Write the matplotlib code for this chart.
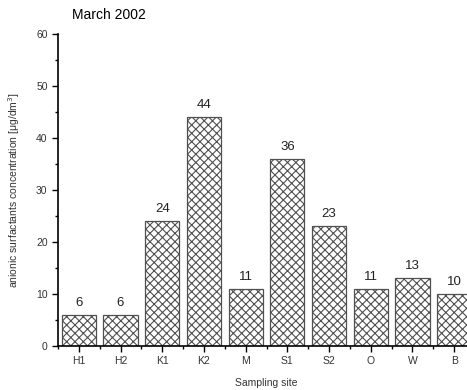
import matplotlib
matplotlib.use("Agg")
from matplotlib import pyplot as plt
from matplotlib.ticker import MultipleLocator

sites = ["H1", "H2", "K1", "K2", "M", "S1", "S2", "O", "W", "B"]
values = [6, 6, 24, 44, 11, 36, 23, 11, 13, 10]

plt.rcParams['font.family'] = ['Liberation Sans', 'DejaVu Sans']
plt.rcParams['hatch.color'] = '#505050'
plt.rcParams['hatch.linewidth'] = 0.8

fig = plt.figure(figsize=(4.67, 3.9), dpi=100)
ax = fig.add_axes([58 / 467, 44 / 390, 417 / 467, 312 / 390])

x = range(len(sites))
ax.bar(x, values, width=0.82, color='white', edgecolor='#505050',
       linewidth=0.9, hatch='xxxx')

# value labels above each bar
for i, v in enumerate(values):
    ax.text(i, v + 1.2, str(v), ha='center', va='bottom', fontsize=9.5, color='#222222')

ax.set_xlim(-0.5, 9.5)
ax.set_ylim(0, 60)
ax.set_xticks(list(x))
ax.set_xticklabels(sites, fontsize=7.5, color='#333333')
ax.xaxis.set_minor_locator(MultipleLocator(1, offset=0.5))
ax.yaxis.set_major_locator(MultipleLocator(10))
ax.yaxis.set_minor_locator(MultipleLocator(5))
ax.tick_params(axis='y', labelsize=7.5, labelcolor='#333333')
ax.tick_params(which='both', direction='out', width=1)
ax.tick_params(which='major', length=4)
ax.tick_params(which='minor', length=2)

for side in ['top', 'right']:
    ax.spines[side].set_visible(False)
for side in ['left', 'bottom']:
    ax.spines[side].set_linewidth(1.2)

ax.set_xlabel("Sampling site", fontsize=7.5, labelpad=8, color='#333333')
ax.set_ylabel("anionic surfactants concentration [μg/dm$^3$]", fontsize=7.5,
              labelpad=10, color='#333333')
fig.text(72 / 467, 1 - 15 / 390, "March 2002", fontsize=10, va='center', ha='left')

plt.savefig("out.png", dpi=100)
